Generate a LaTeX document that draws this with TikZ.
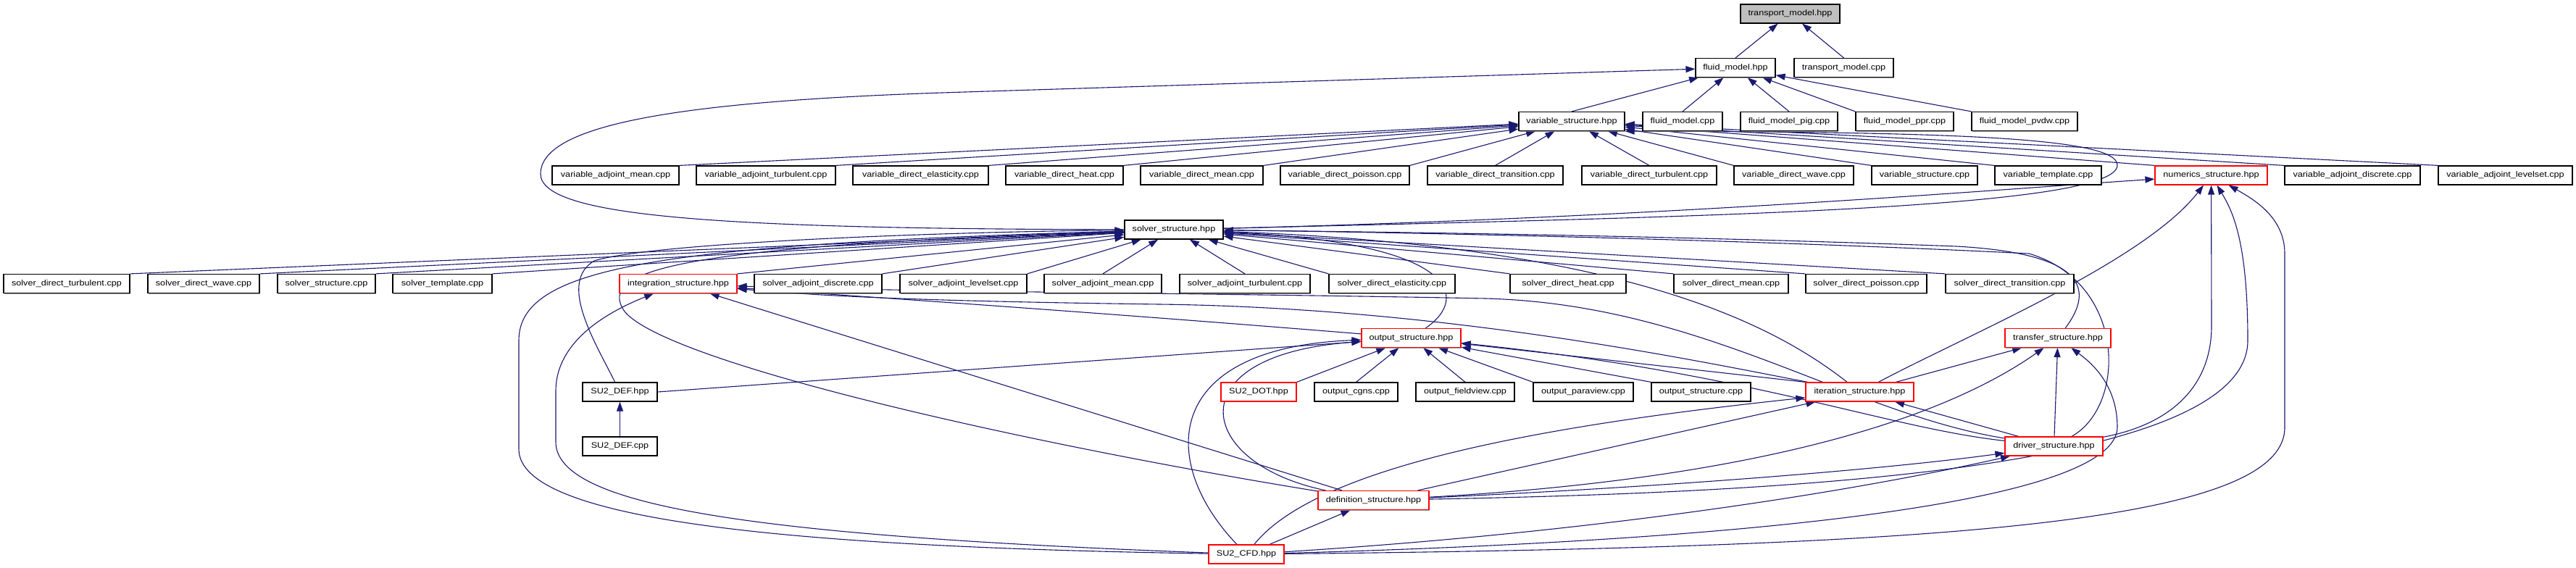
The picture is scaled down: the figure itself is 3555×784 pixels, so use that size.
\documentclass[tikz,border=0pt]{standalone}
\usepackage{fontspec}
\setmainfont{Liberation Sans}[FakeStretch=1.15]
\usetikzlibrary{arrows.meta,shadows}
\pgfdeclarelayer{bg}
\pgfsetlayers{bg,main}
\definecolor{navyc}{RGB}{25,25,112}
\definecolor{redc}{RGB}{255,0,0}
\definecolor{rootfill}{RGB}{191,191,191}
\newcommand{\mybox}[6][]{%
  \pgfmathsetmacro{\bxc}{(#3+#4)/2}%
  \pgfmathsetmacro{\bxw}{#4-#3}%
  \node[nbox,minimum width=\bxw pt,#1] (#2) at (\bxc,#5) {#6};%
}
\tikzset{
  nbox/.style={draw=black, line width=1.2pt, fill=white, inner sep=0pt, minimum height=26pt,
    font=\fontsize{11}{13}\selectfont,
    drop shadow={shadow xshift=1.3pt, shadow yshift=-1.3pt, fill=black!50, opacity=0.8}},
  hot/.style={draw=redc},
  root/.style={fill=rootfill},
  lnk/.style={draw=navyc, line width=1.1pt, -{Triangle[length=13pt,width=9pt]}}
}
\begin{document}
\begin{tikzpicture}[x=1pt,y=-1pt]
\useasboundingbox (0,0) rectangle (3555,784);
% row 0
\mybox[root]{tmh}{2402}{2539}{19}{transport\_model.hpp}
% row 1
\mybox{fmh}{2340}{2450}{93.5}{fluid\_model.hpp}
\mybox{tmc}{2476}{2613}{93.5}{transport\_model.cpp}
% row 2
\mybox{vsh}{2096}{2242}{167.5}{variable\_structure.hpp}
\mybox{fmc}{2267}{2377}{167.5}{fluid\_model.cpp}
\mybox{fmpig}{2402}{2536}{167.5}{fluid\_model\_pig.cpp}
\mybox{fmppr}{2561}{2696}{167.5}{fluid\_model\_ppr.cpp}
\mybox{fmpvdw}{2721}{2867}{167.5}{fluid\_model\_pvdw.cpp}
% row 3
\mybox{vam}{762}{937}{242}{variable\_adjoint\_mean.cpp}
\mybox{vat}{961}{1153}{242}{variable\_adjoint\_turbulent.cpp}
\mybox{vde}{1177}{1364}{242}{variable\_direct\_elasticity.cpp}
\mybox{vdh}{1388}{1550}{242}{variable\_direct\_heat.cpp}
\mybox{vdm}{1574}{1743}{242}{variable\_direct\_mean.cpp}
\mybox{vdp}{1767}{1945}{242}{variable\_direct\_poisson.cpp}
\mybox{vdtr}{1970}{2157}{242}{variable\_direct\_transition.cpp}
\mybox{vdtu}{2183}{2369}{242}{variable\_direct\_turbulent.cpp}
\mybox{vdw}{2393}{2558}{242}{variable\_direct\_wave.cpp}
\mybox{vsc}{2583}{2729}{242}{variable\_structure.cpp}
\mybox{vtc}{2753}{2900}{242}{variable\_template.cpp}
\mybox[hot]{nsh}{2974}{3129}{242}{numerics\_structure.hpp}
\mybox{vad}{3153}{3340}{242}{variable\_adjoint\_discrete.cpp}
\mybox{val}{3365}{3550}{242}{variable\_adjoint\_levelset.cpp}
% row 4
\mybox{ssh}{1552}{1688}{317}{solver\_structure.hpp}
% row 5
\mybox{sdtu}{5}{179}{391.5}{solver\_direct\_turbulent.cpp}
\mybox{sdw}{204}{358}{391.5}{solver\_direct\_wave.cpp}
\mybox{ssc}{383}{518}{391.5}{solver\_structure.cpp}
\mybox{stc}{542}{679}{391.5}{solver\_template.cpp}
\mybox[hot]{ish}{855}{1017}{391.5}{integration\_structure.hpp}
\mybox{sad}{1041}{1217}{391.5}{solver\_adjoint\_discrete.cpp}
\mybox{sal}{1242}{1417}{391.5}{solver\_adjoint\_levelset.cpp}
\mybox{sam}{1441}{1603}{391.5}{solver\_adjoint\_mean.cpp}
\mybox{sat}{1628}{1808}{391.5}{solver\_adjoint\_turbulent.cpp}
\mybox{sde}{1834}{2008}{391.5}{solver\_direct\_elasticity.cpp}
\mybox{sdh}{2084}{2244}{391.5}{solver\_direct\_heat.cpp}
\mybox{sdm}{2310}{2468}{391.5}{solver\_direct\_mean.cpp}
\mybox{sdp}{2492}{2659}{391.5}{solver\_direct\_poisson.cpp}
\mybox{sdtr}{2685}{2862}{391.5}{solver\_direct\_transition.cpp}
% row 6
\mybox[hot]{osh}{1879}{2016}{466.5}{output\_structure.hpp}
\mybox[hot]{tsh}{2767}{2913}{466.5}{transfer\_structure.hpp}
% row 7
\mybox{defh}{804}{907}{541}{SU2\_DEF.hpp}
\mybox[hot]{doth}{1685}{1789}{541}{SU2\_DOT.hpp}
\mybox{ocg}{1814}{1929}{541}{output\_cgns.cpp}
\mybox{ofv}{1954}{2090}{541}{output\_fieldview.cpp}
\mybox{opv}{2116}{2254}{541}{output\_paraview.cpp}
\mybox{osc}{2279}{2416}{541}{output\_structure.cpp}
\mybox[hot]{ith}{2492}{2641}{541}{iteration\_structure.hpp}
% row 8
\mybox{defc}{804}{907}{616}{SU2\_DEF.cpp}
\mybox[hot]{drh}{2767}{2902}{616}{driver\_structure.hpp}
% row 9
\mybox[hot]{dsh}{1819}{1972}{690.5}{definition\_structure.hpp}
% row 10
\mybox[hot]{cfdh}{1668}{1772}{765}{SU2\_CFD.hpp}

\begin{pgfonlayer}{bg}
\fill[white] (0,0) rectangle (3555,784);
% transport_model.hpp
\draw[lnk] (fmh.north) -- (tmh);
\draw[lnk] (tmc.north) -- (tmh);
% fluid_model.hpp
\foreach \c in {vsh,fmc,fmpig} \draw[lnk] (\c.north) -- (fmh);
\foreach \c in {fmppr,fmpvdw} \draw[lnk] (\c.north west) -- (fmh);
\draw[lnk] (ssh) .. controls (1000,316) and (746,300) .. (746,240)
  .. controls (746,170) and (950,140) .. (1300,128) -- (fmh);
% variable_structure.hpp
\foreach \c in {vam,vat,vde,vdh,vdm,vdp} \draw[lnk] (\c.north east) -- (vsh);
\foreach \c in {vdtr,vdtu} \draw[lnk] (\c.north) -- (vsh);
\foreach \c in {vdw,vsc,vtc,nsh,vad,val} \draw[lnk] (\c.north west) -- (vsh);
\draw[lnk] (ssh) .. controls (2300,300) and (2922,290) .. (2922,228)
  .. controls (2922,190) and (2700,182) .. (vsh.south east);
% numerics_structure.hpp
\draw[lnk] (ssh) .. controls (2300,300) and (2750,262) .. (nsh);
\draw[lnk] (ith) .. controls (2720,460) and (2960,360) .. (nsh);
\draw[lnk] (drh) .. controls (3000,585) and (3052,530) .. (3052,450) -- (nsh);
\draw[lnk] (dsh) .. controls (2450,680) and (3102,650) .. (3102,470)
  .. controls (3102,330) and (3080,290) .. (nsh);
\draw[lnk] (cfdh) .. controls (2700,755) and (3153,720) .. (3153,590) -- (3153,350)
  .. controls (3153,300) and (3110,275) .. (nsh);
% solver_structure.hpp
\foreach \c in {sdtu,sdw,ssc,stc,ish,sad,sal} \draw[lnk] (\c.north east) -- (ssh);
\foreach \c in {sam,sat} \draw[lnk] (\c.north) -- (ssh);
\foreach \c in {sde,sdh,sdm,sdp,sdtr} \draw[lnk] (\c.north west) -- (ssh);
\draw[lnk] (osh) .. controls (2030,410) and (2010,335) .. (ssh);
\draw[lnk] (ith) .. controls (2450,450) and (2250,340) .. (ssh);
\draw[lnk] (tsh) .. controls (2890,400) and (2880,350) .. (2700,340)
  .. controls (2300,325) and (1900,320) .. (ssh);
\draw[lnk] (drh) .. controls (2935,560) and (2935,390) .. (2800,350)
  .. controls (2400,330) and (1900,320) .. (ssh);
\draw[lnk] (dsh) .. controls (1400,610) and (920,500) .. (862,430)
  .. controls (820,370) and (950,340) .. (ssh);
\draw[lnk] (defh) .. controls (820,470) and (770,390) .. (820,360)
  .. controls (900,335) and (1300,320) .. (ssh);
\draw[lnk] (cfdh) .. controls (1100,755) and (716,720) .. (716,620) -- (716,470)
  .. controls (716,370) and (900,338) .. (ssh);
% integration_structure.hpp
\draw[lnk] (osh) .. controls (1500,430) and (1200,410) .. (ish);
\draw[lnk] (ith) .. controls (2350,500) and (2000,425) .. (1600,420)
  .. controls (1300,416) and (1150,410) .. (ish);
\draw[lnk] (drh) .. controls (2550,570) and (2350,420) .. (2050,412)
  .. controls (1700,405) and (1200,402) .. (ish);
\draw[lnk] (dsh) -- (ish);
\draw[lnk] (cfdh) .. controls (1050,740) and (767,700) .. (767,610) -- (767,540)
  .. controls (767,470) and (840,430) .. (ish);
% output_structure.hpp
\draw[lnk] (defh.east) -- (osh);
\draw[lnk] (doth.north east) -- (osh);
\foreach \c in {ocg,ofv} \draw[lnk] (\c.north) -- (osh);
\foreach \c in {opv,osc,ith} \draw[lnk] (\c.north west) -- (osh);
\draw[lnk] (drh) .. controls (2600,590) and (2420,515) .. (osh);
\draw[lnk] (dsh) .. controls (1650,640) and (1620,490) .. (osh);
\draw[lnk] (cfdh) .. controls (1600,640) and (1600,480) .. (osh);
% transfer_structure.hpp
\draw[lnk] (ith) -- (tsh);
\draw[lnk] (drh) -- (tsh);
\draw[lnk] (dsh) .. controls (2350,665) and (2650,600) .. (tsh);
\draw[lnk] (cfdh) .. controls (2450,745) and (2920,690) .. (2922,590)
  .. controls (2922,530) and (2885,500) .. (tsh);
% iteration_structure.hpp
\draw[lnk] (drh) -- (ith);
\draw[lnk] (dsh) -- (ith);
\draw[lnk] (cfdh) .. controls (1820,640) and (2150,585) .. (ith);
% driver_structure.hpp
\draw[lnk] (dsh) .. controls (2300,672) and (2600,648) .. (drh);
\draw[lnk] (cfdh) .. controls (2200,735) and (2550,680) .. (drh);
% definition_structure.hpp
\draw[lnk] (cfdh) -- (dsh);
% SU2_DEF.hpp
\draw[lnk] (defc) -- (defh);
\end{pgfonlayer}
\end{tikzpicture}
\end{document}
